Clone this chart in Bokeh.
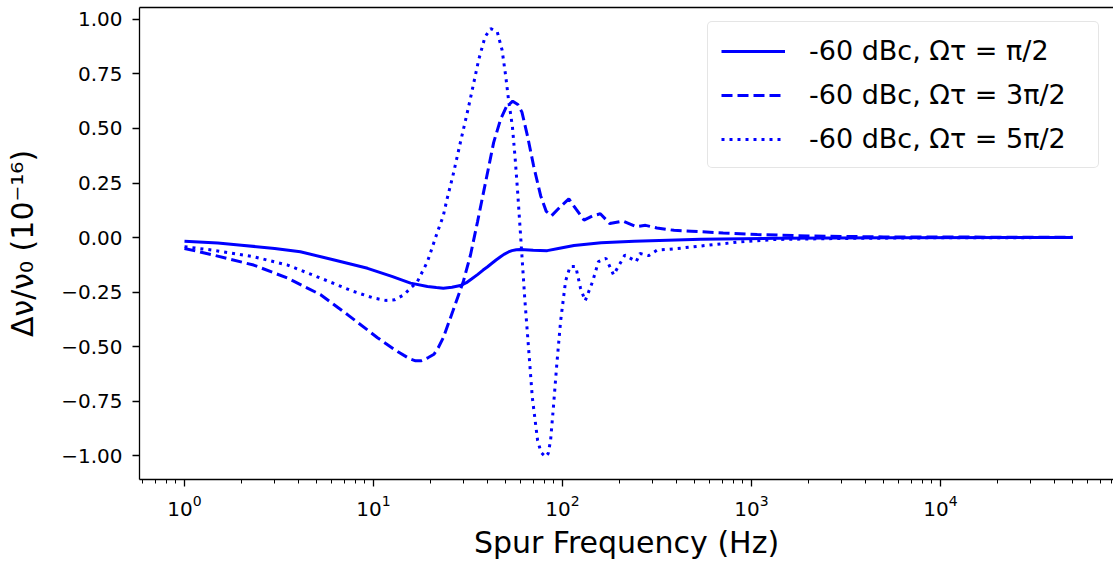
from bokeh.plotting import figure
from bokeh.models import (Range1d, FixedTicker, LogAxis, CustomJSTickFormatter,
                          Legend, LegendItem)
from bokeh.embed import file_html
from bokeh.resources import INLINE

# ---- data ----
freq_solid = [1, 1.5, 2, 3, 4.1, 6.2, 9.3, 12.5, 15.7, 19.3, 21.5, 23.4, 26, 28.8,
              31, 33, 35.5, 38, 40, 42, 44.5, 47, 49, 51.8, 54, 57, 60, 70, 83, 95,
              115, 160, 240, 540, 1400, 5000, 50000]
shift_solid = [-0.017, -0.025, -0.035, -0.05, -0.065, -0.103, -0.141, -0.178, -0.209,
               -0.224, -0.229, -0.232, -0.228, -0.22, -0.207, -0.19, -0.17, -0.149,
               -0.135, -0.12, -0.103, -0.088, -0.077, -0.066, -0.06, -0.056, -0.055,
               -0.058, -0.06, -0.05, -0.036, -0.024, -0.017, -0.008, -0.003, -0.001,
               0.0]

freq_dash = [1, 1.42, 2.32, 3.51, 5.25, 7.28, 10.5, 13, 14.5, 15.5, 16.7, 17.8, 19.5,
             20.9, 22, 23.4, 26.3, 29.9, 32.6, 35.5, 39.8, 43.2, 47.0, 50.5, 54.5, 58,
             61, 65.3, 70.3, 76.6, 82, 87.5, 97, 108, 118, 130, 145, 158.5, 178, 209,
             245, 275, 316, 389, 479, 708, 1072, 2000, 5000, 50000]
shift_dash = [-0.05, -0.08, -0.126, -0.186, -0.262, -0.353, -0.459, -0.515, -0.54,
              -0.555, -0.565, -0.565, -0.55, -0.535, -0.505, -0.459, -0.337, -0.2,
              -0.08, 0.072, 0.283, 0.435, 0.541, 0.60, 0.625, 0.61, 0.575, 0.465,
              0.329, 0.192, 0.12, 0.10, 0.14, 0.177, 0.13, 0.08, 0.10, 0.109, 0.064,
              0.076, 0.05, 0.056, 0.044, 0.033, 0.029, 0.021, 0.014, 0.007, 0.003,
              0.001]

freq_dot = [1, 1.42, 2.32, 3.51, 5.25, 7.83, 10, 11.6, 13, 14.5, 15.7, 17.0, 19.3,
            21.8, 23.4, 24.5, 26.3, 28.8, 31.6, 33.9, 36.0, 38.9, 41.7, 45.2, 47.9,
            50.1, 51.8, 54.3, 56.2, 57.9, 60.0, 63.1, 66.1, 69.2, 73.8, 77, 81.3, 84,
            86.5, 89.5, 93.3, 97.7, 103.8, 109.6, 117.5, 124.5, 131.8, 144.5, 154.9,
            169.8, 186.2, 213.8, 245.5, 257, 285, 316, 407, 589, 871, 1318, 3000,
            10000, 50000]
shift_dot = [-0.042, -0.058, -0.088, -0.126, -0.186, -0.247, -0.277, -0.288, -0.285,
             -0.262, -0.232, -0.205, -0.11, 0.026, 0.10, 0.177, 0.283, 0.435, 0.586,
             0.708, 0.814, 0.92, 0.958, 0.942, 0.859, 0.738, 0.632, 0.51, 0.359, 0.208,
             0.01, -0.277, -0.505, -0.732, -0.929, -0.985, -1.005, -0.99, -0.929,
             -0.777, -0.58, -0.383, -0.2, -0.133, -0.133, -0.232, -0.29, -0.2, -0.11,
             -0.095, -0.171, -0.08, -0.11, -0.073, -0.083, -0.058, -0.05, -0.035,
             -0.02, -0.009, -0.004, -0.001, 0.0]

labels = ["-60 dBc, \u03a9\u03c4 = \u03c0/2",
          "-60 dBc, \u03a9\u03c4 = 3\u03c0/2",
          "-60 dBc, \u03a9\u03c4 = 5\u03c0/2"]

x_major = [1, 10, 100, 1000, 10000]
y_major = [-1.0, -0.75, -0.5, -0.25, 0.0, 0.25, 0.5, 0.75, 1.0]

XMIN, XMAX = 0.578, 82250
YMIN, YMAX = -1.109, 1.0545

FONT = "DejaVu Sans"
BLUE = "#0000ff"

p = figure(width=1113, height=562, x_axis_type="log",
           x_range=Range1d(XMIN, XMAX), y_range=Range1d(YMIN, YMAX),
           output_backend="svg", toolbar_location=None,
           min_border_left=139, min_border_right=0, min_border_top=7,
           min_border_bottom=79)
p.grid.visible = False
p.outline_line_color = None
p.background_fill_color = "white"
p.border_fill_color = "white"

r1 = p.line(freq_solid, shift_solid, line_color=BLUE, line_width=3)
r2 = p.line(freq_dash, shift_dash, line_color=BLUE, line_width=3, line_dash="11 5")
r3 = p.line(freq_dot, shift_dot, line_color=BLUE, line_width=3, line_dash="3 5")

minor = [m * 10 ** k for k in range(-1, 5) for m in range(2, 10)
         if XMIN <= m * 10 ** k <= XMAX]

xa = p.xaxis[0]
xa.ticker = FixedTicker(ticks=x_major, minor_ticks=minor)
xa.axis_label = "Spur Frequency (Hz)"
ya = p.yaxis[0]
ya.ticker = FixedTicker(ticks=y_major)
ya.formatter = CustomJSTickFormatter(
    code="return (tick < -1e-9 ? '\\u2212' : '') + Math.abs(tick).toFixed(2);")
ya.axis_label = "\u0394\u03bd/\u03bd\u2080 (10\u207b\u00b9\u2076)"

for ax in (xa, ya):
    ax.axis_line_color = "black"
    ax.axis_line_width = 1.3
    ax.major_tick_line_color = "black"
    ax.major_tick_line_width = 1.3
    ax.minor_tick_line_color = "black"
    ax.minor_tick_line_width = 1.0
    ax.major_tick_out = 7
    ax.major_tick_in = 0
    ax.minor_tick_out = 4
    ax.minor_tick_in = 0
    ax.major_label_text_font = FONT
    ax.major_label_text_font_size = "20px"
    ax.major_label_text_color = "black"
    ax.axis_label_text_font = FONT
    ax.axis_label_text_font_size = "30px"
    ax.axis_label_text_font_style = "normal"
    ax.axis_label_text_color = "black"
ya.minor_tick_out = 0
ya.major_label_standoff = 10
ya.axis_label_standoff = 18
xa.major_label_standoff = 8
xa.axis_label_standoff = 6

top = LogAxis(ticker=FixedTicker(ticks=[]), major_label_text_font_size="0px",
              major_tick_out=0, minor_tick_out=0, major_label_standoff=0,
              axis_line_color="black", axis_line_width=1.3)
p.add_layout(top, "above")

legend = Legend(items=[LegendItem(label=labels[0], renderers=[r1]),
                       LegendItem(label=labels[1], renderers=[r2]),
                       LegendItem(label=labels[2], renderers=[r3])],
                location="top_right", margin=14, padding=13, spacing=13,
                glyph_width=64, glyph_height=20, label_standoff=24,
                label_width=276,
                label_text_font=FONT, label_text_font_size="27px",
                label_text_color="black",
                border_line_color="#cccccc", border_line_width=1.5,
                background_fill_color="white", background_fill_alpha=0.8)
try:
    legend.border_radius = 5
except Exception:
    pass
p.add_layout(legend)

open("out.html", "w").write(file_html(p, INLINE))
